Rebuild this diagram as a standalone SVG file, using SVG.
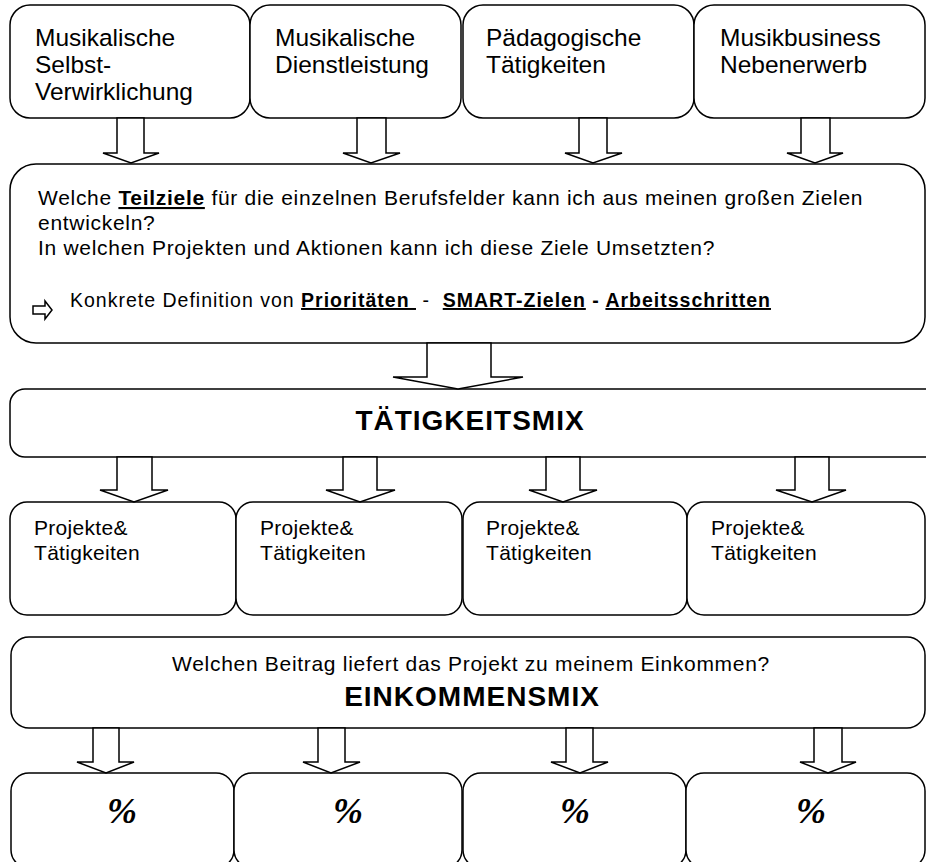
<svg xmlns="http://www.w3.org/2000/svg" width="926" height="862" viewBox="0 0 926 862">
<style>
.box{fill:#fff;stroke:#000;stroke-width:1.5}
.arr{fill:#fff;stroke:#000;stroke-width:1.5;stroke-linejoin:miter}
.t{font-family:"Liberation Sans",Arial,sans-serif;fill:#000}
.top{font-size:24.5px}
.mid{font-size:21px;letter-spacing:0.7px}
.kon{font-size:19.5px;letter-spacing:1px}
.proj{font-size:21px;letter-spacing:0.3px}
.big{font-size:28px;font-weight:bold;letter-spacing:1px}
.b{font-weight:bold}
.u{text-decoration:underline}
.pct{font-family:"Liberation Serif","Times New Roman",serif;font-size:36px;font-weight:bold;font-style:italic;fill:#000}
</style>
<rect width="926" height="862" fill="#fff"/>

<g id="field1"><rect class="box" x="10" y="5" width="240" height="113" rx="20"/>
<text class="t top" x="35" y="46">Musikalische</text><text class="t top" x="35" y="73">Selbst-</text><text class="t top" x="35" y="100">Verwirklichung</text></g>
<g id="field2"><rect class="box" x="250" y="5" width="211" height="113" rx="20"/>
<text class="t top" x="275" y="46">Musikalische</text><text class="t top" x="275" y="73">Dienstleistung</text></g>
<g id="field3"><rect class="box" x="463" y="5" width="231" height="113" rx="20"/>
<text class="t top" x="486" y="46">Pädagogische</text><text class="t top" x="486" y="73">Tätigkeiten</text></g>
<g id="field4"><rect class="box" x="694" y="5" width="231" height="113" rx="20"/>
<text class="t top" x="720" y="46">Musikbusiness</text><text class="t top" x="720" y="73">Nebenerwerb</text></g>

<g id="goals"><rect class="box" x="10" y="164" width="915" height="179" rx="26"/>
<text class="t mid" x="38" y="205" xml:space="preserve">Welche <tspan class="b u">Teilziele</tspan> für die einzelnen Berufsfelder kann ich aus meinen großen Zielen</text>
<text class="t mid" x="38" y="230">entwickeln?</text>
<text class="t mid" x="38" y="255">In welchen Projekten und Aktionen kann ich diese Ziele Umsetzten?</text>
<path class="arr" d="M33,306 H45 V301 L52,310 L45,319 V314 H33 Z"/>
<text class="t kon" x="70" y="307" xml:space="preserve">Konkrete Definition von <tspan class="b u">Prioritäten </tspan> -  <tspan class="b u">SMART-Zielen</tspan><tspan class="b"> - </tspan><tspan class="b u">Arbeitsschritten</tspan></text></g>

<g id="taetigkeitsmix"><rect class="box" x="10" y="389" width="930" height="68" rx="15"/>
<text class="t big" x="470" y="430" text-anchor="middle">TÄTIGKEITSMIX</text></g>

<g id="proj1"><rect class="box" x="10" y="502" width="226" height="113" rx="17"/>
<text class="t proj" x="34" y="535">Projekte&amp;</text><text class="t proj" x="34" y="560">Tätigkeiten</text></g>
<g id="proj2"><rect class="box" x="236" y="502" width="226" height="113" rx="17"/>
<text class="t proj" x="260" y="535">Projekte&amp;</text><text class="t proj" x="260" y="560">Tätigkeiten</text></g>
<g id="proj3"><rect class="box" x="463" y="502" width="224" height="113" rx="17"/>
<text class="t proj" x="486" y="535">Projekte&amp;</text><text class="t proj" x="486" y="560">Tätigkeiten</text></g>
<g id="proj4"><rect class="box" x="687" y="502" width="238" height="113" rx="17"/>
<text class="t proj" x="711" y="535">Projekte&amp;</text><text class="t proj" x="711" y="560">Tätigkeiten</text></g>

<g id="einkommensmix"><rect class="box" x="11" y="637" width="914" height="91" rx="18"/>
<text class="t mid" x="471" y="671" text-anchor="middle">Welchen Beitrag liefert das Projekt zu meinem Einkommen?</text>
<text class="t big" x="472" y="706" text-anchor="middle">EINKOMMENSMIX</text></g>

<g id="pct1"><rect class="box" x="11" y="773" width="223" height="95" rx="18"/><text class="pct" x="122" y="823" text-anchor="middle">%</text></g>
<g id="pct2"><rect class="box" x="234" y="773" width="228" height="95" rx="18"/><text class="pct" x="348" y="823" text-anchor="middle">%</text></g>
<g id="pct3"><rect class="box" x="463" y="773" width="223" height="95" rx="18"/><text class="pct" x="575" y="823" text-anchor="middle">%</text></g>
<g id="pct4"><rect class="box" x="686" y="773" width="239" height="95" rx="18"/><text class="pct" x="811" y="823" text-anchor="middle">%</text></g>

<g id="connectors">
<polygon class="arr" points="117,118 144,118 144,153 159,153 131,163 103,153 117,153"/>
<polygon class="arr" points="357,118 386,118 386,153 400,153 371,163 343,153 357,153"/>
<polygon class="arr" points="579,118 607,118 607,153 622,153 593,163 565,153 579,153"/>
<polygon class="arr" points="801,118 830,118 830,153 843,153 815,163 787,153 801,153"/>
<polygon class="arr" points="427,343 491,343 491,377 523,377 458,389 393,377 427,377"/>
<polygon class="arr" points="117,457 152,457 152,490 168,490 134,502 100,490 117,490"/>
<polygon class="arr" points="343,457 377,457 377,490 395,490 360,502 326,490 343,490"/>
<polygon class="arr" points="546,457 580,457 580,490 597,490 563,502 529,490 546,490"/>
<polygon class="arr" points="795,457 829,457 829,490 846,490 812,502 776,490 795,490"/>
<polygon class="arr" points="93,728 119,728 119,762 134,762 106,773 77,762 93,762"/>
<polygon class="arr" points="318,728 345,728 345,762 360,762 331,773 303,762 318,762"/>
<polygon class="arr" points="566,728 593,728 593,762 608,762 580,773 551,762 566,762"/>
<polygon class="arr" points="814,728 842,728 842,762 856,762 828,773 800,762 814,762"/>
</g>
</svg>
